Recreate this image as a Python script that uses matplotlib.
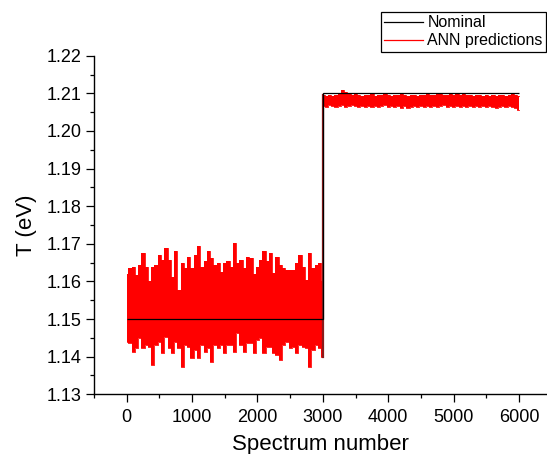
import matplotlib
matplotlib.use("Agg")
import matplotlib.pyplot as plt
from matplotlib.ticker import MultipleLocator, FormatStrFormatter
from matplotlib.lines import Line2D

plt.rcParams['font.family'] = ['Liberation Sans', 'DejaVu Sans']

# Nominal temperature: step at spectrum 3000
nominal_edges = [0, 3000, 6000]
nominal_levels = [1.15, 1.21]

# ANN predictions, read as upper / lower envelope of the noisy trace
spec_a = list(range(0, 3001, 50))
upper_a = [1.1619, 1.1635, 1.1639, 1.1617, 1.1644, 1.1675, 1.1639, 1.1600, 1.1639, 1.1645,
           1.1670, 1.1657, 1.1690, 1.1657, 1.1613, 1.1680, 1.1577, 1.1648, 1.1635, 1.1666,
           1.1635, 1.1670, 1.1693, 1.1639, 1.1653, 1.1681, 1.1662, 1.1644, 1.1648, 1.1626,
           1.1650, 1.1653, 1.1639, 1.1702, 1.1648, 1.1657, 1.1635, 1.1666, 1.1662, 1.1620,
           1.1639, 1.1657, 1.1680, 1.1653, 1.1675, 1.1622, 1.1666, 1.1644, 1.1635, 1.1631,
           1.1631, 1.1631, 1.1648, 1.1670, 1.1639, 1.1604, 1.1675, 1.1635, 1.1644, 1.1648,
           1.1600]
lower_a = [1.1440, 1.1436, 1.1413, 1.1422, 1.1449, 1.1422, 1.1431, 1.1427, 1.1378, 1.1431,
           1.1440, 1.1409, 1.1453, 1.1422, 1.1409, 1.1440, 1.1422, 1.1373, 1.1431, 1.1427,
           1.1396, 1.1418, 1.1396, 1.1431, 1.1413, 1.1422, 1.1387, 1.1431, 1.1422, 1.1431,
           1.1409, 1.1431, 1.1431, 1.1413, 1.1462, 1.1431, 1.1413, 1.1436, 1.1436, 1.1409,
           1.1444, 1.1449, 1.1409, 1.1427, 1.1427, 1.1409, 1.1405, 1.1391, 1.1431, 1.1440,
           1.1422, 1.1427, 1.1409, 1.1431, 1.1427, 1.1422, 1.1373, 1.1418, 1.1431, 1.1422,
           1.1400]

spec_b = list(range(3000, 6001, 50))
upper_b = [1.2095, 1.2093, 1.2095, 1.2093, 1.2095, 1.2097, 1.2109, 1.2104, 1.2102, 1.2095,
           1.2097, 1.2095, 1.2093, 1.2095, 1.2095, 1.2097, 1.2093, 1.2095, 1.2095, 1.2097,
           1.2095, 1.2093, 1.2095, 1.2095, 1.2097, 1.2095, 1.2093, 1.2095, 1.2095, 1.2093,
           1.2095, 1.2095, 1.2097, 1.2095, 1.2095, 1.2102, 1.2099, 1.2095, 1.2095, 1.2097,
           1.2095, 1.2097, 1.2095, 1.2097, 1.2095, 1.2095, 1.2093, 1.2095, 1.2095, 1.2093,
           1.2095, 1.2093, 1.2095, 1.2093, 1.2095, 1.2095, 1.2093, 1.2095, 1.2097, 1.2095,
           1.2093]
lower_b = [1.2067, 1.2064, 1.2069, 1.2067, 1.2064, 1.2067, 1.2069, 1.2064, 1.2067, 1.2069,
           1.2067, 1.2064, 1.2067, 1.2064, 1.2067, 1.2064, 1.2067, 1.2064, 1.2067, 1.2069,
           1.2064, 1.2067, 1.2064, 1.2067, 1.2062, 1.2067, 1.2060, 1.2064, 1.2067, 1.2064,
           1.2067, 1.2064, 1.2067, 1.2064, 1.2067, 1.2064, 1.2067, 1.2069, 1.2064, 1.2067,
           1.2064, 1.2067, 1.2064, 1.2067, 1.2064, 1.2067, 1.2064, 1.2067, 1.2064, 1.2067,
           1.2064, 1.2067, 1.2064, 1.2062, 1.2064, 1.2067, 1.2064, 1.2067, 1.2064, 1.2062,
           1.2055]

x_ticks = [0, 1000, 2000, 3000, 4000, 5000, 6000]

fig = plt.figure(figsize=(5.47, 4.54), dpi=100)
ax = fig.add_axes([0.1718, 0.1315, 0.8274, 0.7458])

red = '#ff0000'
for xs, lo, up in ((spec_a, lower_a, upper_a), (spec_b, lower_b, upper_b)):
    ax.fill_between(xs, lo, up, step='mid', color=red, lw=0, zorder=2)
    ax.step(xs, up, where='mid', color=red, lw=0.6, zorder=2)
    ax.step(xs, lo, where='mid', color=red, lw=0.6, zorder=2)
# connection of the trace at the step
ax.plot([spec_a[-1], spec_b[0]], [lower_a[-1], upper_b[0]], color='#8b1a1a', lw=1.6, zorder=2)

ax.stairs(nominal_levels, nominal_edges, baseline=None, color='black', lw=0.9, zorder=3)

ax.set_xlim(-500, 6420)
ax.set_ylim(1.13, 1.22)
ax.set_xticks(x_ticks)
ax.xaxis.set_minor_locator(MultipleLocator(500))
ax.yaxis.set_major_locator(MultipleLocator(0.01))
ax.yaxis.set_minor_locator(MultipleLocator(0.005))
ax.yaxis.set_major_formatter(FormatStrFormatter('%.2f'))

for s in ('top', 'right'):
    ax.spines[s].set_visible(False)
for s in ('left', 'bottom'):
    ax.spines[s].set_linewidth(1.0)

ax.tick_params(which='major', direction='out', length=5.5, width=0.9, labelsize=13)
ax.tick_params(axis='x', which='major', pad=5)
ax.tick_params(axis='y', which='major', pad=3.5)
ax.tick_params(which='minor', direction='out', length=3, width=0.9)

ax.set_xlabel('Spectrum number', fontsize=16, labelpad=6)
ax.set_ylabel('T (eV)', fontsize=16, labelpad=7)

handles = [Line2D([], [], color='black', lw=0.9), Line2D([], [], color=red, lw=0.9)]
leg = fig.legend(handles, ['Nominal', 'ANN predictions'], loc='upper right',
                 bbox_to_anchor=(546/547, 1 - 12/454), fontsize=11.5, frameon=True,
                 fancybox=False, edgecolor='black', framealpha=1, borderpad=0.2,
                 labelspacing=0.2, handlelength=2.4, handletextpad=0.3, borderaxespad=0)
leg.get_frame().set_linewidth(0.9)

fig.savefig('out.png', dpi=100)
